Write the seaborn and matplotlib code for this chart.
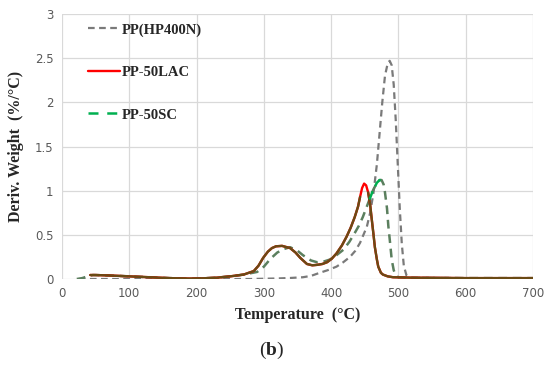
import numpy as np
import pandas as pd
import matplotlib
matplotlib.use("Agg")
import matplotlib.pyplot as plt
import seaborn as sns
from matplotlib.lines import Line2D

# ---- data ----
t_pp = [25, 100, 200, 280, 300, 320, 340, 358, 370, 383, 395, 408, 418, 428, 436, 443, 448, 453, 458,
        463, 468, 472, 476, 480, 484, 487, 490, 493, 496, 499, 502, 505, 508, 512, 520, 600, 700]
v_pp = [0.0, 0.0, 0.0, 0.0, 0.003, 0.006, 0.012, 0.02, 0.035, 0.07, 0.1, 0.14, 0.19, 0.25, 0.32, 0.41,
        0.5, 0.59, 0.75, 0.98, 1.3, 1.65, 2.0, 2.3, 2.44, 2.47, 2.42, 2.2, 1.8, 1.3, 0.8, 0.4, 0.15, 0.04,
        0.015, 0.01, 0.01]

t_lac = [42, 50, 70, 100, 130, 160, 190, 210, 230, 250, 270, 285, 292, 299, 306, 312, 318, 327, 339,
         347, 354, 364, 372, 379, 387, 394, 401, 408, 416, 423, 429, 435, 440, 443, 446, 449, 452, 455,
         458, 460, 463, 465, 468, 470, 474, 477, 484, 492, 520, 600, 700]
v_lac = [0.045, 0.045, 0.04, 0.03, 0.02, 0.01, 0.005, 0.008, 0.015, 0.03, 0.05, 0.09, 0.15, 0.24, 0.31,
         0.35, 0.37, 0.375, 0.35, 0.3, 0.24, 0.17, 0.155, 0.16, 0.17, 0.19, 0.23, 0.29, 0.38, 0.48, 0.58,
         0.7, 0.82, 0.93, 1.03, 1.08, 1.06, 0.98, 0.84, 0.7, 0.5, 0.36, 0.22, 0.14, 0.07, 0.05, 0.03, 0.02,
         0.015, 0.01, 0.01]

t_sc = [22, 30, 38, 46, 70, 100, 130, 160, 190, 210, 230, 250, 270, 290, 300, 310, 320, 330, 339, 350,
        358, 370, 379, 390, 398, 408, 418, 427, 435, 441, 447, 452, 457, 462, 468, 472, 475, 478, 480,
        483, 485, 488, 490, 493, 496, 500, 520, 600, 700]
v_sc = [0.0, 0.01, 0.03, 0.045, 0.04, 0.03, 0.02, 0.01, 0.005, 0.008, 0.015, 0.03, 0.05, 0.08, 0.14,
        0.23, 0.3, 0.34, 0.36, 0.32, 0.27, 0.21, 0.19, 0.2, 0.22, 0.27, 0.33, 0.42, 0.52, 0.6, 0.7, 0.8,
        0.9, 1.0, 1.09, 1.12, 1.12, 1.07, 0.98, 0.8, 0.6, 0.38, 0.22, 0.1, 0.04, 0.02, 0.012, 0.01, 0.01]

labels = ["PP(HP400N)", "PP-50LAC", "PP-50SC"]
x_ticks = [0, 100, 200, 300, 400, 500, 600, 700]
y_ticks = [0, 0.5, 1, 1.5, 2, 2.5, 3]
y_tick_labels = ["0", "0.5", "1", "1.5", "2", "2.5", "3"]

c_pp = "#7a7a7a"
c_lac = "#ff0000"
c_lac_over = "#6a4a14"
c_sc = "#00b050"
c_sc_over = "#5b7f5e"

sns.set_theme(style="white")
plt.rcParams["font.family"] = ["DejaVu Sans"]
plt.rcParams["mathtext.fontset"] = "custom"
plt.rcParams["mathtext.rm"] = "Liberation Serif"
plt.rcParams["mathtext.bf"] = "Liberation Serif:bold"

fig = plt.figure(figsize=(5.5, 3.72), dpi=100)
ax = fig.add_axes([62 / 550, 1 - 279 / 372, 471 / 550, 265 / 372])

df_pp = pd.DataFrame({"T": t_pp, "v": v_pp})
df_lac = pd.DataFrame({"T": t_lac, "v": v_lac})
df_sc = pd.DataFrame({"T": t_sc, "v": v_sc})

ls_pp = (0, (3, 2))
ls_sc = (0, (3.5, 2.3))

sns.lineplot(data=df_pp, x="T", y="v", ax=ax, color=c_pp, lw=1.6, linestyle=ls_pp, zorder=3)
# green series: muted green-grey tone overall, bright green at the top of its peak
sns.lineplot(data=df_sc, x="T", y="v", ax=ax, color=c_sc_over, lw=1.8, linestyle=ls_sc, zorder=4)
sns.lineplot(data=df_lac, x="T", y="v", ax=ax, color=c_lac, lw=1.7, zorder=5)
# darker overlay on the solid curve (as in the reference), red visible at the top of the peak
df_over = df_lac.copy()
df_over.loc[(df_over["T"] > 443) & (df_over["T"] < 455), "v"] = np.nan
ax.plot(df_over["T"], df_over["v"], color=c_lac_over, lw=1.7, zorder=6)
mask = (df_sc["T"] >= 457) & (df_sc["T"] <= 478)
ax.plot(df_sc["T"][mask], df_sc["v"][mask], color=c_sc, lw=1.8, linestyle=ls_sc, zorder=7)

ax.set_xlim(0, 700)
ax.set_ylim(0, 3)
ax.set_xticks(x_ticks)
ax.set_yticks(y_ticks)
ax.set_yticklabels(y_tick_labels)
ax.grid(True, color="#d9d9d9", lw=0.9)
ax.set_axisbelow(True)
for s in ax.spines.values():
    s.set_visible(False)
ax.tick_params(axis="both", length=0, labelsize=8.5, labelcolor="#595959", pad=6)

serif = ["Liberation Serif", "DejaVu Serif"]
ax.set_xlabel("Temperature  (°C)", fontsize=11.5, fontweight="bold", family=serif, labelpad=5)
ax.set_ylabel("Deriv. Weight  (%/°C)", fontsize=11.5, fontweight="bold", family=serif, labelpad=8)

handles = [
    Line2D([], [], color=c_pp, lw=1.6, linestyle=ls_pp),
    Line2D([], [], color=c_lac, lw=1.7),
    Line2D([], [], color=c_sc, lw=1.8, linestyle=(0, (4, 3.5))),
]
ax.legend(handles, labels, loc="upper left", bbox_to_anchor=(0.055, 0.965), frameon=False,
          prop={"family": serif, "weight": "bold", "size": 10.5}, handlelength=2.2,
          handletextpad=0.15, labelspacing=2.0, borderpad=0, borderaxespad=0)

fig.text(0.493, 1 - 350 / 372, r"$\mathrm{(}\mathbf{b}\mathrm{)}$", ha="center", va="center",
         fontsize=14)

fig.savefig("out.png", dpi=100, facecolor="white")
